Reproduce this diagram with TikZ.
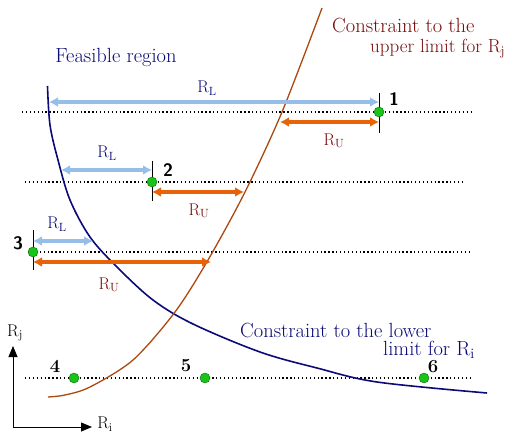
\documentclass[tikz,border=0pt]{standalone}
\usepackage{fontspec}
\usepackage{tikz}
\usetikzlibrary{arrows.meta}
\definecolor{navy}{RGB}{10,10,120}
\definecolor{maroon}{RGB}{120,10,10}
\definecolor{sky}{RGB}{150,190,232}
\definecolor{orng}{RGB}{232,98,8}
\definecolor{rust}{RGB}{172,72,14}
\definecolor{leaf}{RGB}{24,196,24}
\newcommand{\Rsub}[1]{$\mathrm{R}_{\mathrm{#1}}$}

\begin{document}
\begin{tikzpicture}[x=1pt, y=-1pt, every node/.style={font=\fontsize{17}{20}\selectfont},
      dots/.style={line width=1.3pt, dash pattern=on 1.3pt off 2.6pt},
      pt/.style={circle, draw=leaf!55!black, fill=leaf, inner sep=0pt, minimum size=10pt},
      rl/.style={{Latex[length=9pt,width=10pt]}-{Latex[length=9pt,width=10pt]}, draw=sky, line width=3.5pt},
      ru/.style={rl, draw=orng},
      tk/.style={line width=0.8pt},
      lbl/.style={inner sep=1pt},
      txt/.style={anchor=base west, inner sep=0pt, font=\fontsize{20.5}{24}\selectfont},
      num/.style={font=\fontsize{18}{20}\selectfont\sffamily\bfseries},
      numb/.style={font=\fontsize{18.5}{20}\selectfont\bfseries},
      ax/.style={-{Triangle[length=11pt,width=9pt]}, line width=0.8pt}]
    \useasboundingbox (0,0) rectangle (513,435);

    % levels
    \draw[dots] (22,112) -- (472,112);
    \draw[dots] (25,182) -- (465,182);
    \draw[dots] (28,252) -- (472,252);
    \draw[dots] (25,378) -- (470,378);

    % the two constraints
    \draw[navy, line width=1.6pt] plot[smooth, tension=0.55] coordinates {(47.5,86) (50,125) (58,160) (70,200) (90,237) (117,267) (153,300) (193,324) (260,352) (317,368) (377,382) (487,393)};
    \draw[rust, line width=1.3pt] plot[smooth, tension=0.5] coordinates {(48,397) (65,395) (90,387) (133,360) (175,312) (208,260) (245,192) (282,112) (322,8)};

    % points
    \node[pt] (p4) at (74,378) {};
    \node[pt] (p5) at (205,378) {};
    \node[pt] (p6) at (424,378) {};

    % arrow ends
    \coordinate (l1a) at (49,102);  \coordinate (l1b) at (379,102);
    \coordinate (u1a) at (280,122); \coordinate (u1b) at (379,122);
    \coordinate (l2a) at (61,170);  \coordinate (l2b) at (152,170);
    \coordinate (u2a) at (152,192); \coordinate (u2b) at (244,192);
    \coordinate (l3a) at (33,241);  \coordinate (l3b) at (93,241);
    \coordinate (u3a) at (33,262);  \coordinate (u3b) at (211,262);
    \coordinate (t1a) at (379,93);  \coordinate (t1b) at (379,133);
    \coordinate (t2a) at (152,161); \coordinate (t2b) at (152,201);
    \coordinate (t3a) at (33,230);  \coordinate (t3b) at (33,270);

    \draw[tk] (t1a) -- (t1b); \draw[tk] (t2a) -- (t2b); \draw[tk] (t3a) -- (t3b);
    \draw[rl] (l1a) -- (l1b); \draw[ru] (u1a) -- (u1b);
    \draw[rl] (l2a) -- (l2b); \draw[ru] (u2a) -- (u2b);
    \draw[rl] (l3a) -- (l3b); \draw[ru] (u3a) -- (u3b);
    \node[pt] (p1) at (379,112) {};
    \node[pt] (p2) at (152,182) {};
    \node[pt] (p3) at (33,252) {};

    \node[lbl, navy] (rl1) at (207,88) {\Rsub{L}};
    \node[lbl, maroon] (ru1) at (334,141) {\Rsub{U}};
    \node[lbl, navy] (rl2) at (107,153) {\Rsub{L}};
    \node[lbl, maroon] (ru2) at (199,211) {\Rsub{U}};
    \node[lbl, navy] (rl3) at (57,224) {\Rsub{L}};
    \node[lbl, maroon] (ru3) at (109,285) {\Rsub{U}};

    \node[num] (n1) at (394,99) {1};
    \node[num] (n2) at (168,170) {2};
    \node[num] (n3) at (18,243) {3};
    \node[numb] (n4) at (55,366) {4};
    \node[numb] (n5) at (186,366) {5};
    \node[numb] (n6) at (433,367) {6};

    % texts
    \node[navy, font=\fontsize{20.5}{24}\selectfont] (feas) at (116,57) {Feasible region};
    \node[txt, maroon] (up1) at (332,33) {Constraint to the};
    \node[txt, maroon, font=\fontsize{19}{22}\selectfont] (up2) at (370,53) {upper limit for \Rsub{j}};
    \node[txt, navy] (lo1) at (240,337) {Constraint to the lower};
    \node[txt, navy] (lo2) at (383,355) {limit for \Rsub{i}};

    % axes
    \coordinate (o) at (13,427);
    \coordinate (yj) at (13,346);
    \coordinate (xi) at (92,427);
    \draw[ax] (o) -- (yj);
    \draw[ax] (o) -- (xi);
    \node (rj) at (15,333) {\Rsub{j}};
    \node (ri) at (105,424) {\Rsub{i}};
\end{tikzpicture}
\end{document}
